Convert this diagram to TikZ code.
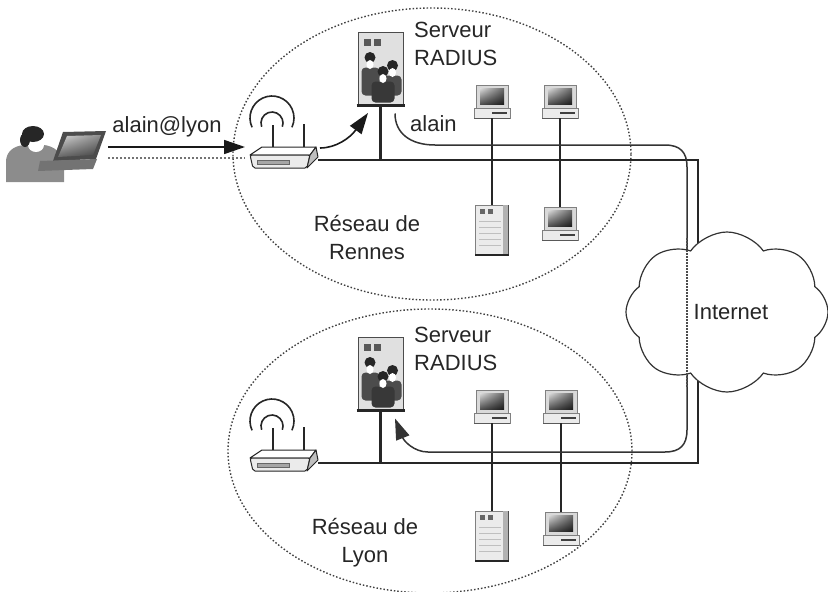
\documentclass[tikz,border=0pt]{standalone}
\usepackage{fontspec}
\setmainfont{Liberation Sans}
\usetikzlibrary{arrows.meta,shapes.geometric,shapes.symbols,shadings,calc}

\tikzset{
  bus/.style={line width=2.6pt, black!85},
  drop/.style={line width=2.4pt, black!85},
  route/.style={line width=1.5pt, black!80},
  hidden/.style={line width=1.2pt, black!70, dash pattern=on 1.5pt off 1.5pt},
  wire/.style={line width=1.3pt, black!55, dash pattern=on 2pt off 2pt},
  zone/.style={draw=black!75, line width=1.4pt, dash pattern=on 1.5pt off 2pt, ellipse, inner sep=0},
  lbl/.style={font=\fontsize{22}{28}\selectfont, text=black!85, inner sep=0},
  bighead/.style={-{Triangle[length=21pt,width=14pt]}},
  % laptop user
  pics/user/.style={code={
    \node[inner sep=0, minimum width=101pt, minimum height=57pt] (-box) at (0,0) {};
    \coordinate (-out) at (52,-7);
    \coordinate (-out2) at (52,4);
    \fill[black!45] (-50,28) -- (-50,8) .. controls (-50,-2) and (-43,-8) .. (-32,-9)
       -- (-12,-9) .. controls (-2,-8) and (6,-1) .. (8,8) -- (8,28) -- cycle;
    \fill[white] (-20,-9) ellipse (8 and 7);
    \fill[black!85] (-23,-20) ellipse (11 and 8);
    \fill[black!85] (-31,-14) ellipse (5 and 7);
    \fill[black!70] (7,-22) -- (50,-23) -- (40,5) -- (-3,7) -- cycle;
    \shade[upper left=black!15, upper right=black!45, lower left=black!60, lower right=black!75]
       (11,-18) -- (45,-19) -- (37,1) -- (2,3) -- cycle;
    \fill[black!55] (-16,7) -- (41,5) -- (37,15) -- (-18,17) -- cycle;
  }},
  % wireless router
  pics/router/.style={code={
    \node[inner sep=0, minimum width=68pt, minimum height=22pt] (-box) at (0,0) {};
    \coordinate (-in) at (-39,-13);
    \coordinate (-in2) at (-39,-2);
    \coordinate (-up) at (36,-12);
    \draw[line width=1.6pt, black!85] (-11,-13) -- (-11,-35);
    \draw[line width=1.6pt, black!85] (20,-13) -- (20,-36);
    \draw[line width=1.6pt, black!85] ([shift={(155:22)}]-12,-42) arc[start angle=155, end angle=385, radius=22];
    \draw[line width=1.6pt, black!85] ([shift={(160:11)}]-12,-37) arc[start angle=160, end angle=380, radius=11];
    \filldraw[fill=white, draw=black!85, line width=1pt, line join=round]
       (-22,-13) -- (32,-13) -- (26,-5) -- (-34,-5) -- cycle;
    \filldraw[fill=black!8, draw=black!85, line width=1pt, line join=round, rounded corners=2pt]
       (-34,-5) -- (26,-5) -- (23,8) -- (-31,8) -- cycle;
    \filldraw[fill=black!25, draw=black!85, line width=1pt, line join=round]
       (26,-5) -- (32,-13) -- (34,-3) -- (23,8) -- cycle;
    \filldraw[fill=black!35, draw=black!60, line width=.6pt] (-27,0) rectangle (5,4);
  }},
  % RADIUS server
  pics/server/.style={code={
    \node[draw=black!70, fill=black!12, line width=1pt, minimum width=45pt,
          minimum height=73pt, inner sep=0] (-box) at (0,0) {};
    \coordinate (-tipL) at (-12.5,44.5);
    \coordinate (-tipR) at (14.5,45);
    \fill[black!65] (-17,-30) rectangle (-10,-23);
    \fill[black!65] (-7,-30) rectangle (0,-23);
    % back left figure
    \fill[black!70, rounded corners=4pt] (-19,-1) rectangle (-1,27);
    \fill[black!85] (-10.5,-11) circle (5.5);
    \fill[white] (-10.5,-4) ellipse (3.5 and 4.5);
    % back right figure
    \fill[black!70, rounded corners=4pt] (3,7) rectangle (21,27);
    \fill[black!85] (12,-3) circle (5.5);
    \fill[white] (12,4) ellipse (3.5 and 4.5);
    % front figure
    \fill[black!78, rounded corners=4pt] (-9,13) rectangle (14,34);
    \fill[black!85] (2.5,3) circle (5.5);
    \fill[white] (2.5,10) ellipse (3.5 and 4.5);
    \draw[line width=2.8pt, black!85] (-24,37) -- (24,37);
  }},
  % desktop computer
  pics/pc/.style={code={
    \node[inner sep=0, minimum width=38pt, minimum height=33pt] (-box) at (0,0) {};
    \filldraw[fill=black!15, draw=black!50, line width=.8pt] (-16,-16.5) rectangle (16,7);
    \shade[upper left=black!15, upper right=black!60, lower left=black!70, lower right=black!90]
       (-12,-13) rectangle (12,3);
    \filldraw[fill=black!8, draw=black!50, line width=.8pt] (-18,7) rectangle (18,16.5);
    \draw[line width=1.5pt, black!75] (0,11.5) -- (15,11.5);
    \draw[line width=1pt, black!65] (-18,16.5) -- (18,16.5);
  }},
  % tower server
  pics/tower/.style={code={
    \node[inner sep=0, minimum width=33pt, minimum height=50pt, draw=black!50,
          fill=black!8, line width=.8pt] (-box) at (0,0) {};
    \fill[black!30] (11,-25) rectangle (16.5,25);
    \fill[black!60] (-12,-21) rectangle (-7,-16);
    \fill[black!60] (-4,-21) rectangle (1,-16);
    \foreach \yy in {-9,-3,3,9,15} \draw[black!25, line width=.8pt] (-13,\yy) -- (9,\yy);
    \draw[line width=1.5pt, black!70] (16.5,-25) -- (16.5,25);
    \draw[line width=2.6pt, black!85] (-17,25) -- (17,25);
  }},
}

\begin{document}
\begin{tikzpicture}[x=1pt,y=-1pt]
\useasboundingbox (0,0) rectangle (828,592);

% network zones
\node[zone, minimum width=398pt, minimum height=292pt] (rennes) at (432,154) {};
\node[zone, minimum width=404pt, minimum height=284pt] (lyon) at (430,451) {};

% equipment, Rennes
\pic (u) at (56,154) {user};
\pic (r1) at (284,160) {router};
\pic (s1) at (380.5,68.5) {server};
\pic (p1a) at (492,101.5) {pc};
\pic (p1b) at (560,101.5) {pc};
\pic (t1) at (492,230) {tower};
\pic (p1c) at (560,223.5) {pc};

% equipment, Lyon
\pic (r2) at (284,463) {router};
\pic (s2) at (380.5,373.5) {server};
\pic (p2a) at (492,406.5) {pc};
\pic (p2b) at (561,406.5) {pc};
\pic (t2) at (492,536) {tower};
\pic (p2c) at (561,528.5) {pc};

% backbone through the Internet
\coordinate (bend-top) at (698,160);
\coordinate (bend-bot) at (698,463);
\draw[bus, line join=miter] (r1-box.east) -- (bend-top) -- (bend-bot) -- (r2-box.east);

% drops onto the LAN segments
\draw[drop] (s1-box.south) -- (s1-box.south |- r1-box.east);
\draw[drop] (p1a-box.south) -- (t1-box.north);
\draw[drop] (p1b-box.south) -- (p1c-box.north);
\draw[drop] (s2-box.south) -- (s2-box.south |- r2-box.east);
\draw[drop] (p2a-box.south) -- (t2-box.north);
\draw[drop] (p2b-box.south) -- (p2c-box.north);

% authentication request relayed from Rennes to Lyon
\draw[route, bighead] (s1-tipR) .. controls (395,133) and (410,145) .. (435,145)
   -- (665,145) .. controls (680,145) and (687,152) .. (687,167)
   -- (687,430) .. controls (687,445) and (680,452) .. (665,452)
   -- (428,452) .. controls (414,452) and (404,441) .. (s2-tipR);

\node[cloud, cloud puffs=8, cloud puff arc=110, aspect=1.3, draw=black!80, fill=white,
      line width=1.2pt, minimum width=202pt, minimum height=160pt, inner sep=0,
      font=\fontsize{22}{28}\selectfont, text=black!85] (net) at (727,312) {\hspace{8pt}Internet};
\coordinate (through-top) at (687,238);
\coordinate (through-bot) at (687,388);
\draw[hidden] (through-top) -- (through-bot);

% roaming user access
\draw[wire] (u-out2) -- (r1-in2);
\draw[line width=1.6pt, black!90, bighead] (u-out) -- (r1-in);
\draw[line width=1.6pt, black!90, bighead] (r1-up) .. controls (336,148) and (350,138) .. (s1-tipL);

% labels
\node[lbl, anchor=base] (login) at (167,132) {alain@lyon};
\node[lbl, anchor=base west] (user) at (410,131) {alain};
\node[lbl, align=left, anchor=north west] (srv1) at (414,22) {Serveur\\RADIUS};
\node[lbl, align=center, anchor=north] (lan1) at (367,215) {Réseau de\\Rennes};
\node[lbl, align=left, anchor=north west] (srv2) at (414,327) {Serveur\\RADIUS};
\node[lbl, align=center, anchor=north] (lan2) at (365,518) {Réseau de\\Lyon};
\end{tikzpicture}
\end{document}
